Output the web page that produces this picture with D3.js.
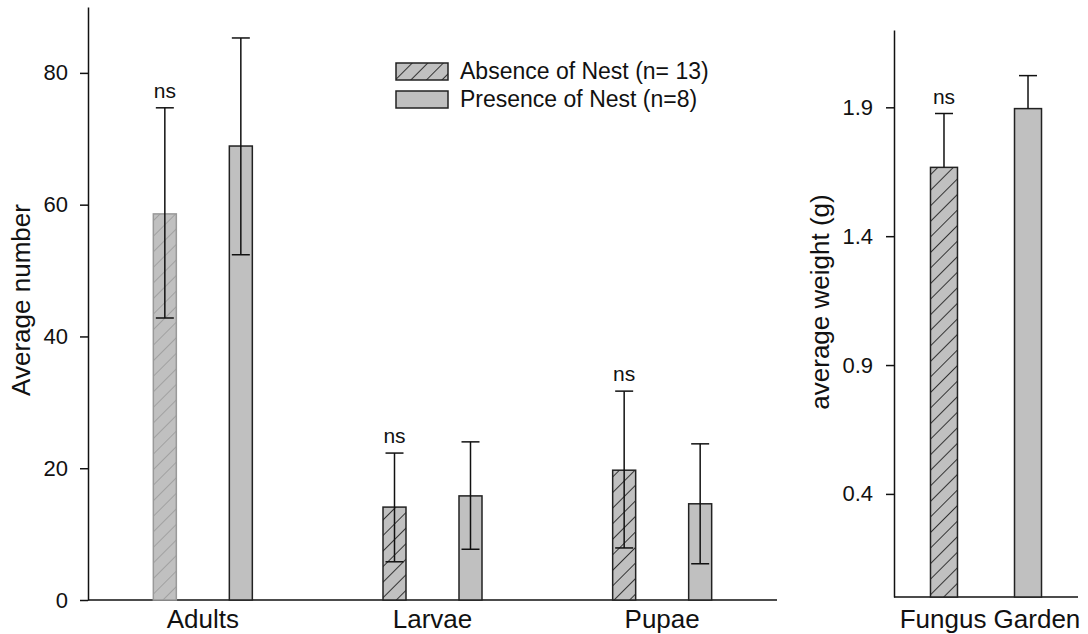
<!DOCTYPE html>
<html>
<head>
<meta charset="utf-8">
<script src="https://cdn.jsdelivr.net/npm/d3@7"></script>
<style>
  body { margin: 0; background: #fff; }
  svg { display: block; font-family: Arial, "Liberation Sans", sans-serif; }
  .axis path, .axis line { stroke: #111; stroke-width: 1.5; }
  .axis text { font-size: 22px; fill: #111; }
</style>
</head>
<body>
<svg id="chart" width="1088" height="634"></svg>
<script>
// data, left panel (counts)
const stages = ["Adults", "Larvae", "Pupae"];
const series = ["Absence of Nest (n= 13)", "Presence of Nest (n=8)"];
const absenceMean = [58.6, 14.1, 19.7];
const absenceLow = [42.8, 5.8, 7.9];
const absenceHigh = [74.7, 22.3, 31.7];
const presenceMean = [68.9, 15.8, 14.6];
const presenceLow = [52.4, 7.7, 5.5];
const presenceHigh = [85.3, 24.0, 23.7];
const countTicks = [0, 20, 40, 60, 80];

// data, right panel (weight)
const weightMean = [1.667, 1.895];
const weightHigh = [1.876, 2.023];
const weightTicks = [0.4, 0.9, 1.4, 1.9];

const svg = d3.select("#chart");

// hatch patterns
const defs = svg.append("defs");
function hatch(id, color, width) {
  const p = defs.append("pattern")
    .attr("id", id)
    .attr("patternUnits", "userSpaceOnUse")
    .attr("width", 11).attr("height", 11)
    .attr("patternTransform", "rotate(45)");
  p.append("rect").attr("width", 11).attr("height", 11).attr("fill", "#c0c0c0");
  p.append("line")
    .attr("x1", 0).attr("y1", 0).attr("x2", 0).attr("y2", 11)
    .attr("stroke", color).attr("stroke-width", width);
}
hatch("hatch", "#1a1a1a", 1.7);
hatch("hatchLight", "#888", 1.1);

const rows = [];
stages.forEach((s, i) => {
  rows.push({stage: s, series: series[0], mean: absenceMean[i], low: absenceLow[i], high: absenceHigh[i]});
  rows.push({stage: s, series: series[1], mean: presenceMean[i], low: presenceLow[i], high: presenceHigh[i]});
});

// ---- left panel
const x0 = d3.scaleBand().domain(stages).range([88, 777]);
const x1 = d3.scalePoint().domain(series).range([-38, 38]);
const y = d3.scaleLinear().domain([0, 90]).range([600, 7]);
const barW = 23, capW = 18;

const left = svg.append("g");

left.append("g").attr("class", "axis")
  .attr("transform", "translate(88,0)")
  .call(d3.axisLeft(y).tickValues(countTicks).tickSize(8).tickPadding(12).tickSizeOuter(0));

left.append("line")
  .attr("x1", 88).attr("x2", 777)
  .attr("y1", y(0)).attr("y2", y(0))
  .attr("stroke", "#111").attr("stroke-width", 1.5);

const cx = d => x0(d.stage) + x0.bandwidth() / 2 + x1(d.series);

left.selectAll(".bar").data(rows).join("rect")
  .attr("class", "bar")
  .attr("x", d => cx(d) - barW / 2)
  .attr("width", barW)
  .attr("y", d => y(d.mean))
  .attr("height", d => y(0) - y(d.mean))
  .attr("fill", d => d.series === series[0] ? (d.stage === "Adults" ? "url(#hatchLight)" : "url(#hatch)") : "#c0c0c0")
  .attr("stroke", d => d.stage === "Adults" && d.series === series[0] ? "#999" : "#222")
  .attr("stroke-width", 1.5);

const err = left.selectAll(".err").data(rows).join("g").attr("class", "err")
  .attr("stroke", "#111").attr("stroke-width", 1.5);
err.append("line")
  .attr("x1", cx).attr("x2", cx)
  .attr("y1", d => y(d.low)).attr("y2", d => y(d.high));
err.append("line")
  .attr("x1", d => cx(d) - capW / 2).attr("x2", d => cx(d) + capW / 2)
  .attr("y1", d => y(d.high)).attr("y2", d => y(d.high));
err.append("line")
  .attr("x1", d => cx(d) - capW / 2).attr("x2", d => cx(d) + capW / 2)
  .attr("y1", d => y(d.low)).attr("y2", d => y(d.low));

left.selectAll(".ns").data(rows.filter(d => d.series === series[0])).join("text")
  .attr("x", cx)
  .attr("y", d => y(d.high) - 10)
  .attr("text-anchor", "middle")
  .attr("font-size", 21).attr("fill", "#111")
  .text("ns");

left.selectAll(".cat").data(stages).join("text")
  .attr("x", d => x0(d) + x0.bandwidth() / 2)
  .attr("y", 628)
  .attr("text-anchor", "middle")
  .attr("font-size", 26).attr("fill", "#111")
  .text(d => d);

left.append("text")
  .attr("transform", "translate(30,300) rotate(-90)")
  .attr("text-anchor", "middle")
  .attr("font-size", 26).attr("fill", "#111")
  .text("Average number");

// legend
const legend = left.append("g").attr("transform", "translate(396,63)");
legend.selectAll("g").data(series).join("g")
  .attr("transform", (d, i) => `translate(0,${i * 28})`)
  .each(function(d, i) {
    const g = d3.select(this);
    g.append("rect").attr("width", 52).attr("height", 17)
      .attr("fill", i === 0 ? "url(#hatch)" : "#c0c0c0")
      .attr("stroke", "#222").attr("stroke-width", 1.5);
    g.append("text").attr("x", 64).attr("y", 16)
      .attr("font-size", 23).attr("fill", "#111").text(d);
  });

// ---- right panel
const xr = d3.scalePoint().domain(series).range([894, 1078]).padding(0.595);
const yr = d3.scaleLinear().domain([0, 2.2]).range([597, 30]);
const right = svg.append("g");

right.append("g").attr("class", "axis")
  .attr("transform", "translate(894,0)")
  .call(d3.axisLeft(yr).tickValues(weightTicks).tickFormat(d3.format(".1f")).tickSize(8).tickPadding(13).tickSizeOuter(0));

right.append("line")
  .attr("x1", 894).attr("x2", 1078)
  .attr("y1", yr(0)).attr("y2", yr(0))
  .attr("stroke", "#111").attr("stroke-width", 1.5);

const wRows = series.map((s, i) => ({series: s, mean: weightMean[i], high: weightHigh[i]}));
const wBarW = 27;

right.selectAll(".bar").data(wRows).join("rect")
  .attr("x", d => xr(d.series) - wBarW / 2)
  .attr("width", wBarW)
  .attr("y", d => yr(d.mean))
  .attr("height", d => yr(0) - yr(d.mean))
  .attr("fill", (d, i) => i === 0 ? "url(#hatch)" : "#c0c0c0")
  .attr("stroke", "#222").attr("stroke-width", 1.5);

const werr = right.selectAll(".err").data(wRows).join("g")
  .attr("stroke", "#111").attr("stroke-width", 1.5);
werr.append("line")
  .attr("x1", d => xr(d.series)).attr("x2", d => xr(d.series))
  .attr("y1", d => yr(d.mean)).attr("y2", d => yr(d.high));
werr.append("line")
  .attr("x1", d => xr(d.series) - capW / 2).attr("x2", d => xr(d.series) + capW / 2)
  .attr("y1", d => yr(d.high)).attr("y2", d => yr(d.high));

right.append("text")
  .attr("x", xr(series[0])).attr("y", yr(weightHigh[0]) - 10)
  .attr("text-anchor", "middle")
  .attr("font-size", 21).attr("fill", "#111")
  .text("ns");

right.append("text")
  .attr("x", 990).attr("y", 628)
  .attr("text-anchor", "middle")
  .attr("font-size", 26).attr("fill", "#111")
  .text("Fungus Garden");

right.append("text")
  .attr("transform", "translate(829,302) rotate(-90)")
  .attr("text-anchor", "middle")
  .attr("font-size", 26).attr("fill", "#111")
  .text("average weight (g)");
</script>
</body>
</html>
